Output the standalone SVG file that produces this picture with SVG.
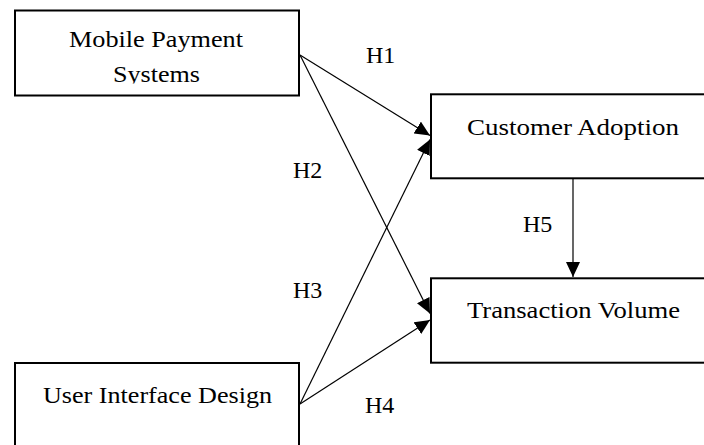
<svg xmlns="http://www.w3.org/2000/svg" width="704" height="445" viewBox="0 0 704 445">
<style>
.box{fill:#fff;stroke:#000;stroke-width:2}
.t{font-family:"Liberation Serif","Times New Roman",serif;font-size:24px;fill:#000}
.c{stroke:#000;stroke-width:1.2;fill:none}
</style>
<defs>
<marker id="ah" markerUnits="userSpaceOnUse" markerWidth="16" markerHeight="14" refX="15" refY="7" orient="auto" viewBox="0 0 16 14">
<path d="M0,0 L15,7 L0,14 z" fill="#000"/>
</marker>
<clipPath id="clip1"><rect x="16" y="12" width="282" height="71.5"/></clipPath>
</defs>
<rect width="704" height="445" fill="#fff"/>
<g id="n1">
<rect class="box" x="15" y="10.5" width="284" height="85"/>
<g clip-path="url(#clip1)">
<text class="t" x="69" y="47" textLength="174" lengthAdjust="spacingAndGlyphs">Mobile Payment</text>
<text class="t" x="113" y="82" textLength="87" lengthAdjust="spacingAndGlyphs">Systems</text>
</g>
</g>
<g id="n2">
<rect class="box" x="431" y="94.3" width="300" height="84"/>
<text class="t" x="467" y="135" textLength="212" lengthAdjust="spacingAndGlyphs">Customer Adoption</text>
</g>
<g id="n3">
<rect class="box" x="431" y="278.3" width="300" height="84.4"/>
<text class="t" x="467" y="317.5" textLength="213" lengthAdjust="spacingAndGlyphs">Transaction Volume</text>
</g>
<g id="n4">
<rect class="box" x="15" y="363" width="284" height="100"/>
<text class="t" x="43" y="403" textLength="229" lengthAdjust="spacingAndGlyphs">User Interface Design</text>
</g>
<g id="connectors">
<line class="c" x1="300" y1="55" x2="430" y2="135.5" marker-end="url(#ah)"/>
<line class="c" x1="300" y1="55" x2="430" y2="313.5" marker-end="url(#ah)"/>
<line class="c" x1="300" y1="404" x2="430" y2="139.5" marker-end="url(#ah)"/>
<line class="c" x1="300" y1="404" x2="430" y2="320" marker-end="url(#ah)"/>
<line class="c" x1="573" y1="179" x2="573" y2="277" marker-end="url(#ah)" stroke="#333"/>
</g>
<g id="labels">
<text class="t" x="366" y="63">H1</text>
<text class="t" x="293" y="178">H2</text>
<text class="t" x="293" y="298">H3</text>
<text class="t" x="365" y="413">H4</text>
<text class="t" x="523" y="231.5">H5</text>
</g>
</svg>
